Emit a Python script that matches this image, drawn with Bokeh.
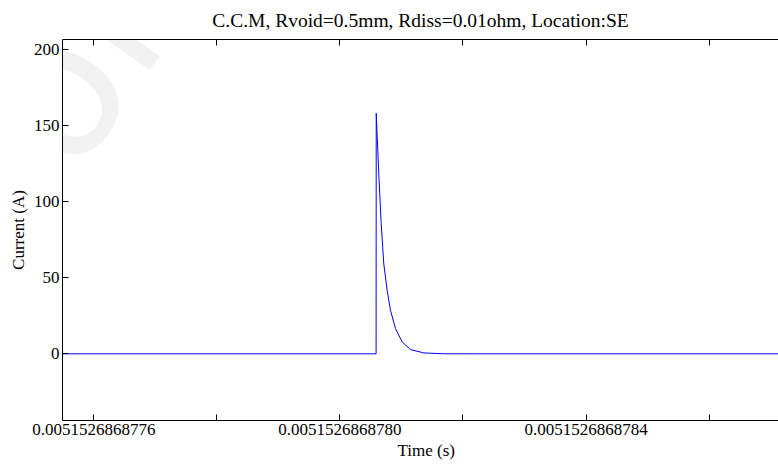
from bokeh.plotting import figure
from bokeh.models import Range1d, FixedTicker, LinearAxis, Label, Title, ColumnDataSource
from bokeh.embed import file_html
from bokeh.resources import INLINE

# ---------------- data ----------------
T0 = 0.0051526868770        # reference instant for plotting (s)
UNIT = 1e-13                # plotting unit (s)

time_s = [0.00515268687754, 0.0051526868780587, 0.0051526868780589,
          0.0051526868780631, 0.0051526868780670, 0.0051526868780712,
          0.0051526868780767, 0.0051526868780821, 0.0051526868780902,
          0.0051526868781011, 0.0051526868781146, 0.0051526868781363,
          0.0051526868781683, 0.00515268687822, 0.00515268687873]
current_A = [0, 0, 158, 118, 85.5, 59, 41.7, 28.6, 16.6, 7.8, 2.8, 0.6, 0.05, 0, 0]

x_tick_s = [0.0051526868776, 0.0051526868778, 0.0051526868780,
            0.0051526868782, 0.0051526868784, 0.0051526868786]
x_tick_labels = ["0.0051526868776", "", "0.0051526868780", "", "0.0051526868784", ""]
y_ticks = [0, 50, 100, 150, 200]

title_text = "C.C.M, Rvoid=0.5mm, Rdiss=0.01ohm, Location:SE"
x_label = "Time (s)"
y_label = "Current (A)"
watermark = "ion"

# ---------------- derived ----------------
x_rel = [(t - T0) / UNIT for t in time_s]
x_ticks = [round((t - T0) / UNIT, 6) for t in x_tick_s]
overrides = {k: v for k, v in zip(x_ticks, x_tick_labels)}

FONT = "Liberation Serif"
W, H = 778, 464

p = figure(width=W, height=H, output_backend="svg", toolbar_location=None,
           x_range=Range1d(5.488, 17.130), y_range=Range1d(-43.8, 206.5),
           min_border_left=62, min_border_right=0, min_border_top=39,
           min_border_bottom=44, outline_line_color=None,
           background_fill_color="white", border_fill_color="white")

p.title.text = title_text
p.title.text_font = FONT
p.title.text_font_size = "19.5px"
p.title.text_font_style = "normal"
p.title.align = "center"
p.title.vertical_align = "top"
p.title.text_color = "black"
p.title.standoff = 14

p.xgrid.visible = False
p.ygrid.visible = False

def style_axis(ax):
    ax.axis_line_color = "black"
    ax.axis_line_width = 1
    ax.major_tick_line_color = "black"
    ax.major_tick_in = 6
    ax.major_tick_out = 0
    ax.minor_tick_line_color = None
    ax.major_label_text_font = FONT
    ax.major_label_text_font_size = "17px"
    ax.major_label_text_color = "black"
    ax.axis_label_text_font = FONT
    ax.axis_label_text_font_size = "17px"
    ax.axis_label_text_font_style = "normal"
    ax.axis_label_text_color = "black"

xa = p.xaxis[0]
style_axis(xa)
xa.ticker = FixedTicker(ticks=x_ticks)
xa.major_label_overrides = overrides
xa.major_label_standoff = 3

ya = p.yaxis[0]
style_axis(ya)
ya.ticker = FixedTicker(ticks=y_ticks)
ya.major_label_standoff = 3
ya.axis_label = y_label
ya.axis_label_standoff = 3

top = LinearAxis(ticker=FixedTicker(ticks=x_ticks))
style_axis(top)
top.major_label_text_font_size = "0px"
top.major_label_standoff = 0
p.add_layout(top, "above")

# x-axis caption, placed in the panel below the axis
p.add_layout(Title(text=x_label, text_font=FONT, text_font_size="17px",
                   text_font_style="normal", text_color="black",
                   align="left", offset=335, standoff=2), "below")

src = ColumnDataSource(dict(x=x_rel, y=current_A))
p.line("x", "y", source=src, line_color="#0000ff", line_width=1)

# faint watermark (screen units measured from the frame's bottom-left corner)
p.add_layout(Label(x=10, y=354, x_units="screen", y_units="screen", text=watermark,
                   text_font="DejaVu Sans", text_font_size="190px", text_align="center",
                   text_baseline="middle", text_color="#f1f1f1", angle=55,
                   angle_units="deg", level="underlay"))

open("out.html", "w").write(file_html(p, INLINE))
